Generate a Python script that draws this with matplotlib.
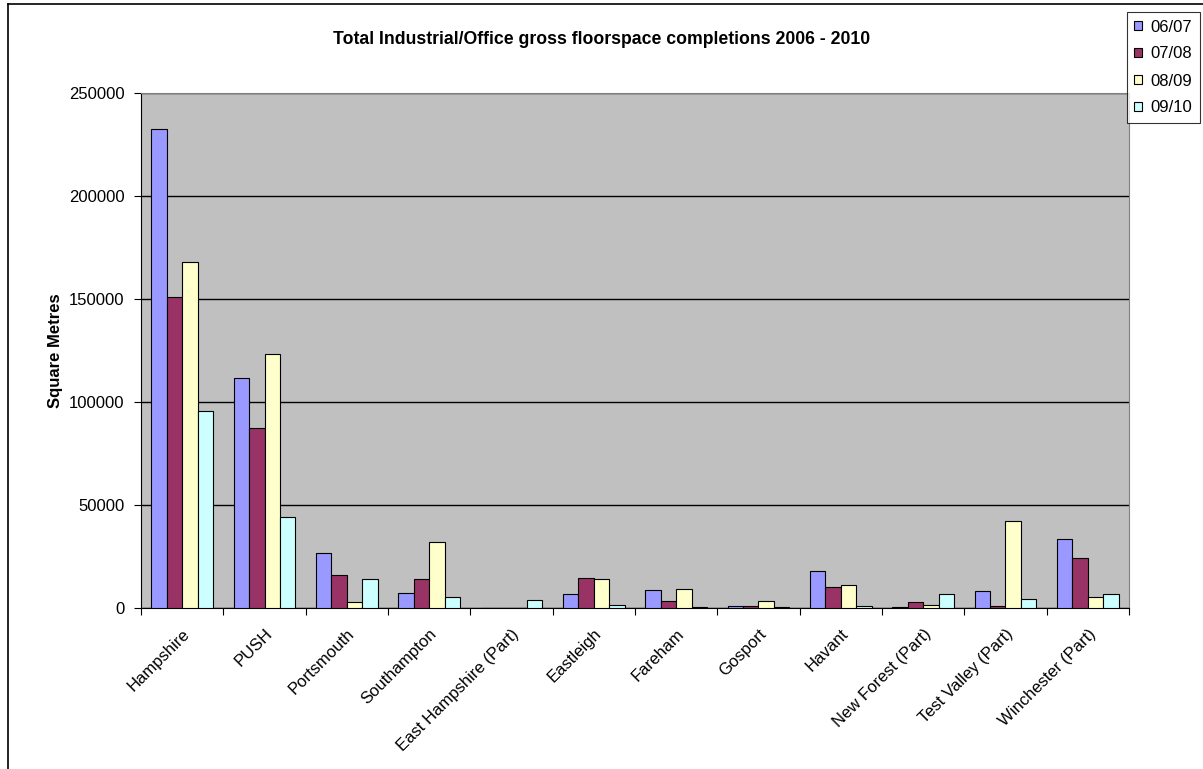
import numpy as np
import matplotlib.pyplot as plt
from matplotlib.lines import Line2D

plt.rcParams['font.family'] = ['Liberation Sans', 'DejaVu Sans']

areas = ['Hampshire', 'PUSH', 'Portsmouth', 'Southampton', 'East Hampshire (Part)',
         'Eastleigh', 'Fareham', 'Gosport', 'Havant', 'New Forest (Part)',
         'Test Valley (Part)', 'Winchester (Part)']
years = ['06/07', '07/08', '08/09', '09/10']
v0607 = [232700, 111800, 26500, 7100, 0, 6600, 8900, 1100, 17800, 500, 8250, 33300]
v0708 = [150800, 87400, 16000, 13900, 0, 14400, 3250, 1100, 10000, 2750, 1100, 24400]
v0809 = [168100, 123100, 3100, 32200, 0, 13900, 9400, 3250, 11000, 1600, 42200, 5500]
v0910 = [95800, 44300, 13900, 5500, 3900, 1450, 600, 500, 1100, 6600, 4500, 6600]
colors = ['#9999FF', '#993366', '#FFFFCC', '#CCFFFF']

fig = plt.figure(figsize=(12.03, 7.69), dpi=100)
W, H = 1203.0, 769.0
# chart frame (only left and top edges fall inside the picture)
fig.lines.append(Line2D([8 / W, 8 / W], [0, 1 - 4 / H], transform=fig.transFigure,
                        color='black', linewidth=1.2))
fig.lines.append(Line2D([8 / W, 1], [1 - 4 / H, 1 - 4 / H], transform=fig.transFigure,
                        color='black', linewidth=1.2))

ax = fig.add_axes([141 / W, 1 - 608 / H, (1129 - 141) / W, (608 - 93) / H])
ax.set_facecolor('#C0C0C0')

x = np.arange(len(areas))
w = 0.1875
series = [v0607, v0708, v0809, v0910]
for i, vals in enumerate(series):
    ax.bar(x - 0.5 + 0.125 + i * w, vals, width=w, align='edge', color=colors[i],
           edgecolor='black', linewidth=0.8, label=years[i], zorder=3)

ax.set_xlim(-0.5, len(areas) - 0.5)
ax.set_ylim(0, 250000)
ax.set_yticks(np.arange(0, 250001, 50000))
ax.yaxis.grid(True, color='black', linewidth=1, zorder=1)
ax.set_axisbelow(True)
ax.tick_params(axis='y', labelsize=12, length=5, direction='out', pad=7)

ax.set_xticks(np.arange(-0.5, len(areas), 1.0))
ax.set_xticklabels([])
ax.set_xticks(x, minor=True)
ax.set_xticklabels(areas, minor=True, rotation=45, ha='right', rotation_mode='anchor', fontsize=12)
ax.tick_params(axis='x', which='major', length=5, direction='out')
ax.tick_params(axis='x', which='minor', length=0, pad=13)

for s in ['top', 'right']:
    ax.spines[s].set_color('#808080')
for s in ['left', 'bottom']:
    ax.spines[s].set_color('black')

ax.set_ylabel('Square Metres', fontsize=12, fontweight='bold', labelpad=4)
fig.text(0.5, 1 - 40 / H, 'Total Industrial/Office gross floorspace completions 2006 - 2010',
         ha='center', va='center', fontsize=12.7, fontweight='bold')

leg = fig.legend(loc='upper right', bbox_to_anchor=(1200 / W, 1 - 12 / H), fontsize=12,
                 frameon=True, fancybox=False, edgecolor='black', handlelength=0.5,
                 handleheight=0.5, handletextpad=0.5, borderpad=0.45, labelspacing=0.72,
                 borderaxespad=0)
leg.get_frame().set_linewidth(0.8)

fig.savefig('out.png', dpi=100)
